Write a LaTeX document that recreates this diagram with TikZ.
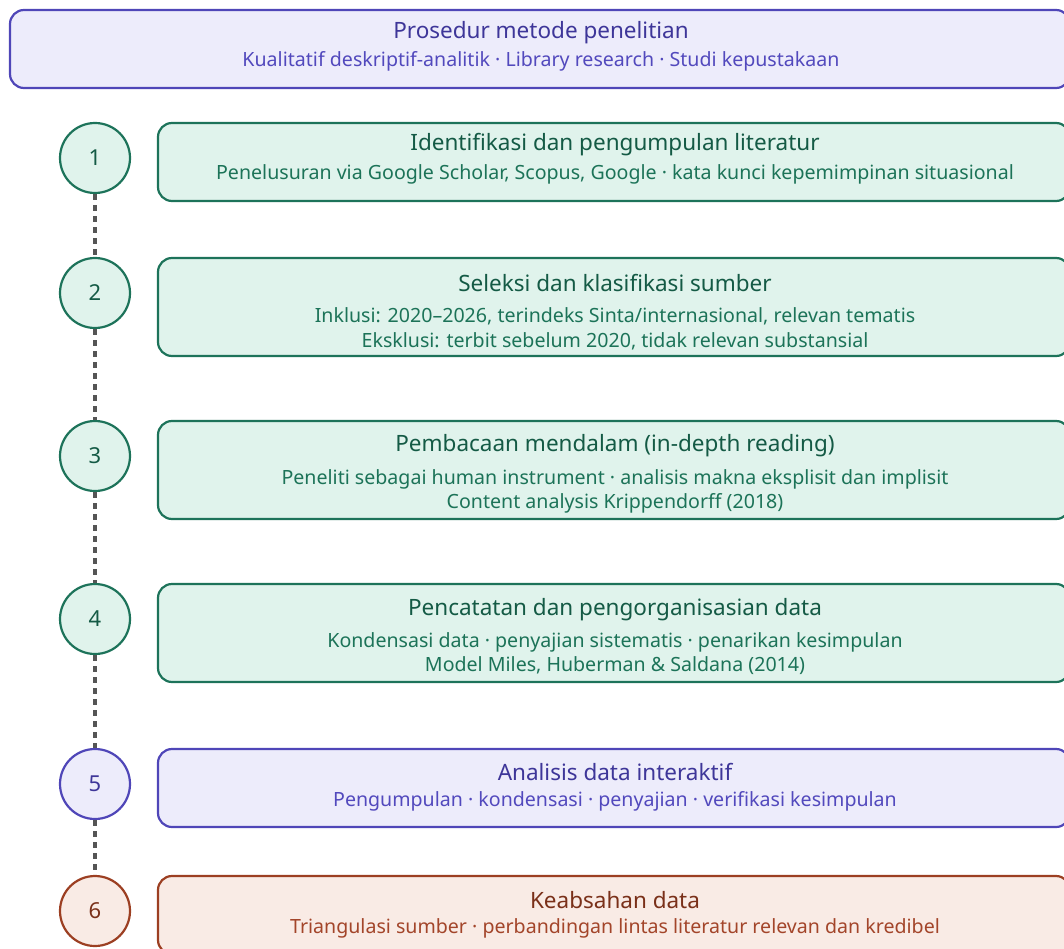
\documentclass[tikz,border=0pt]{standalone}
\usepackage{fontspec}
\setmainfont{Noto Sans}
\definecolor{pFill}{HTML}{EDECFB}
\definecolor{pDraw}{HTML}{4F46B8}
\definecolor{pTitle}{HTML}{3E3699}
\definecolor{pSub}{HTML}{5249BD}
\definecolor{gFill}{HTML}{E0F3EC}
\definecolor{gDraw}{HTML}{1D735A}
\definecolor{gTitle}{HTML}{145A45}
\definecolor{gSub}{HTML}{1C7358}
\definecolor{bFill}{HTML}{F9EBE5}
\definecolor{bDraw}{HTML}{9C3F22}
\definecolor{bTitle}{HTML}{7A3019}
\definecolor{bSub}{HTML}{A3452A}
\definecolor{linkgray}{HTML}{555555}
\begin{document}
\begin{tikzpicture}[x=1pt,y=-1pt,
  box/.style={draw, rounded corners=14pt, line width=2.2pt, inner sep=0pt, minimum width=912pt},
  circ/.style={circle, draw, line width=2.2pt, minimum size=70pt, inner sep=0pt, font=\fontsize{22}{26}\selectfont},
  ttl/.style={inner sep=0pt, font=\fontsize{22.5}{27}\selectfont},
  sub/.style={inner sep=0pt, font=\fontsize{19.6}{23}\selectfont},
  link/.style={draw=linkgray, line width=4pt, dash pattern=on 6pt off 5pt},
  pstyle/.style={fill=pFill, draw=pDraw},
  gstyle/.style={fill=gFill, draw=gDraw},
  bstyle/.style={fill=bFill, draw=bDraw}]
\useasboundingbox (0,0) rectangle (1064,949);
\clip (0,0) rectangle (1064,949);

% header
\node[box, pstyle, minimum width=1060pt, minimum height=78pt] (top) at (540,49) {};
\node[ttl, text=pTitle] (topT) at (541,33) {Prosedur metode penelitian};
\node[sub, text=pSub] (topS) at (541,61) {Kualitatif deskriptif-analitik · Library research · Studi kepustakaan};

% circles
\node[circ, gstyle, text=gTitle] (c1) at (95,158) {1};
\node[circ, gstyle, text=gTitle] (c2) at (95,293) {2};
\node[circ, gstyle, text=gTitle] (c3) at (95,456) {3};
\node[circ, gstyle, text=gTitle] (c4) at (95,619) {4};
\node[circ, pstyle, text=pTitle] (c5) at (95,784) {5};
\node[circ, bstyle, text=bTitle] (c6) at (95,911) {6};

\draw[link] (c1.south) -- (c2.north);
\draw[link] (c2.south) -- (c3.north);
\draw[link] (c3.south) -- (c4.north);
\draw[link] (c4.south) -- (c5.north);
\draw[link] (c5.south) -- (c6.north);

% step boxes
\node[box, gstyle, minimum height=78pt] (b1) at (614,162) {};
\node[ttl, text=gTitle] (b1T) at (615,145) {Identifikasi dan pengumpulan literatur};
\node[sub, text=gSub] (b1S) at (615,174) {Penelusuran via Google Scholar, Scopus, Google · kata kunci kepemimpinan situasional};

\node[box, gstyle, minimum height=98pt] (b2) at (614,307) {};
\node[ttl, text=gTitle] (b2T) at (615,283) {Seleksi dan klasifikasi sumber};
\node[sub, text=gSub] (b2S) at (615,316) {Inklusi: 2020–2026, terindeks Sinta/internasional, relevan tematis};
\node[sub, text=gSub] (b2S2) at (615,341) {Eksklusi: terbit sebelum 2020, tidak relevan substansial};

\node[box, gstyle, minimum height=98pt] (b3) at (614,470) {};
\node[ttl, text=gTitle] (b3T) at (615,446) {Pembacaan mendalam (in-depth reading)};
\node[sub, text=gSub] (b3S) at (615,479) {Peneliti sebagai human instrument · analisis makna eksplisit dan implisit};
\node[sub, text=gSub] (b3S2) at (615,503) {Content analysis Krippendorff (2018)};

\node[box, gstyle, minimum height=98pt] (b4) at (614,633) {};
\node[ttl, text=gTitle] (b4T) at (615,610) {Pencatatan dan pengorganisasian data};
\node[sub, text=gSub] (b4S) at (615,642) {Kondensasi data · penyajian sistematis · penarikan kesimpulan};
\node[sub, text=gSub] (b4S2) at (615,666) {Model Miles, Huberman \& Saldana (2014)};

\node[box, pstyle, minimum height=78pt] (b5) at (614,788) {};
\node[ttl, text=pTitle] (b5T) at (615,772) {Analisis data interaktif};
\node[sub, text=pSub] (b5S) at (615,801) {Pengumpulan · kondensasi · penyajian · verifikasi kesimpulan};

\node[box, bstyle, minimum height=78pt] (b6) at (614,915) {};
\node[ttl, text=bTitle] (b6T) at (615,900) {Keabsahan data};
\node[sub, text=bSub] (b6S) at (615,928) {Triangulasi sumber · perbandingan lintas literatur relevan dan kredibel};
\end{tikzpicture}
\end{document}
